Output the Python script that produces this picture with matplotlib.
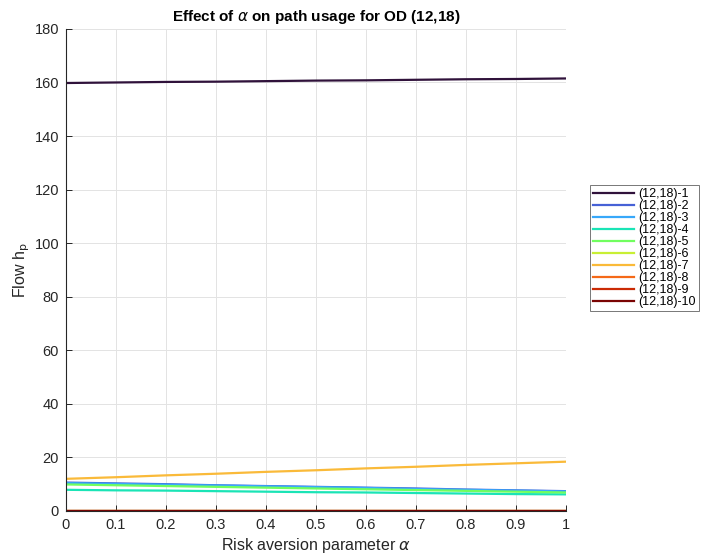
import numpy as np
import matplotlib
matplotlib.use("Agg")
import matplotlib.pyplot as plt

plt.rcParams['font.family'] = ['Liberation Sans', 'DejaVu Sans']

alpha = [0.0, 0.1, 0.2, 0.3, 0.4, 0.5, 0.6, 0.7, 0.8, 0.9, 1.0]

path_labels = ['(12,18)-1', '(12,18)-2', '(12,18)-3', '(12,18)-4', '(12,18)-5',
               '(12,18)-6', '(12,18)-7', '(12,18)-8', '(12,18)-9', '(12,18)-10']

flow_p1 = [159.8, 160.0, 160.2, 160.3, 160.5, 160.7, 160.8, 161.0, 161.2, 161.3, 161.5]
flow_p2 = [10.6, 10.3, 10.0, 9.6, 9.3, 9.0, 8.7, 8.4, 8.0, 7.7, 7.4]
flow_p3 = [10.4, 10.1, 9.8, 9.5, 9.2, 8.9, 8.6, 8.2, 7.9, 7.6, 7.3]
flow_p4 = [7.9, 7.7, 7.6, 7.4, 7.2, 7.0, 6.9, 6.7, 6.5, 6.3, 6.2]
flow_p5 = [9.9, 9.6, 9.3, 9.0, 8.7, 8.4, 8.1, 7.8, 7.5, 7.2, 6.9]
flow_p6 = [0.0, 0.0, 0.0, 0.0, 0.0, 0.0, 0.0, 0.0, 0.0, 0.0, 0.0]
flow_p7 = [12.0, 12.6, 13.3, 13.9, 14.6, 15.2, 15.9, 16.5, 17.2, 17.8, 18.4]
flow_p8 = [0.0, 0.0, 0.0, 0.0, 0.0, 0.0, 0.0, 0.0, 0.0, 0.0, 0.0]
flow_p9 = [0.0, 0.0, 0.0, 0.0, 0.0, 0.0, 0.0, 0.0, 0.0, 0.0, 0.0]
flow_p10 = [0.0, 0.0, 0.0, 0.0, 0.0, 0.0, 0.0, 0.0, 0.0, 0.0, 0.0]

flows = [flow_p1, flow_p2, flow_p3, flow_p4, flow_p5,
         flow_p6, flow_p7, flow_p8, flow_p9, flow_p10]

fig = plt.figure(figsize=(7.05, 5.56), dpi=100)
ax = fig.add_axes([0.0936, 0.081, 0.709, 0.867])

colors = plt.get_cmap('turbo')(np.linspace(0, 1, len(flows)))
for f, lab, c in zip(flows, path_labels, colors):
    ax.plot(alpha, f, color=c, lw=1.6, label=lab)

ax.set_xlim(0, 1)
ax.set_ylim(0, 180)
ax.set_xticks(np.arange(0, 1.01, 0.1))
ax.set_xticklabels(['0', '0.1', '0.2', '0.3', '0.4', '0.5', '0.6', '0.7', '0.8', '0.9', '1'])
ax.set_yticks(np.arange(0, 181, 20))

ax.grid(True, color='#e3e3e3', lw=0.7)
ax.set_axisbelow(True)
for s in ['top', 'right']:
    ax.spines[s].set_visible(False)
for s in ['left', 'bottom']:
    ax.spines[s].set_color('#262626')
    ax.spines[s].set_linewidth(0.8)
ax.tick_params(direction='in', length=4, width=0.7, colors='#262626',
               labelsize=10.5, labelcolor='#262626', pad=5)

ax.set_xlabel(r'Risk aversion parameter $\alpha$', fontsize=11.5, color='#262626', labelpad=3)
ax.set_ylabel(r'Flow h$_\mathrm{p}$', fontsize=11.5, color='#262626', labelpad=2)
ax.set_title(r'Effect of $\alpha$ on path usage for OD (12,18)', fontsize=11,
             fontweight='bold', pad=6)

leg = ax.legend(loc='upper left', bbox_to_anchor=(1.048, 0.676), fontsize=9,
                frameon=True, fancybox=False, edgecolor='#555555',
                handlelength=3.3, handletextpad=0.3, labelspacing=0.0,
                borderpad=0.25, borderaxespad=0)
leg.get_frame().set_linewidth(0.7)

fig.savefig('out.png', dpi=100)
